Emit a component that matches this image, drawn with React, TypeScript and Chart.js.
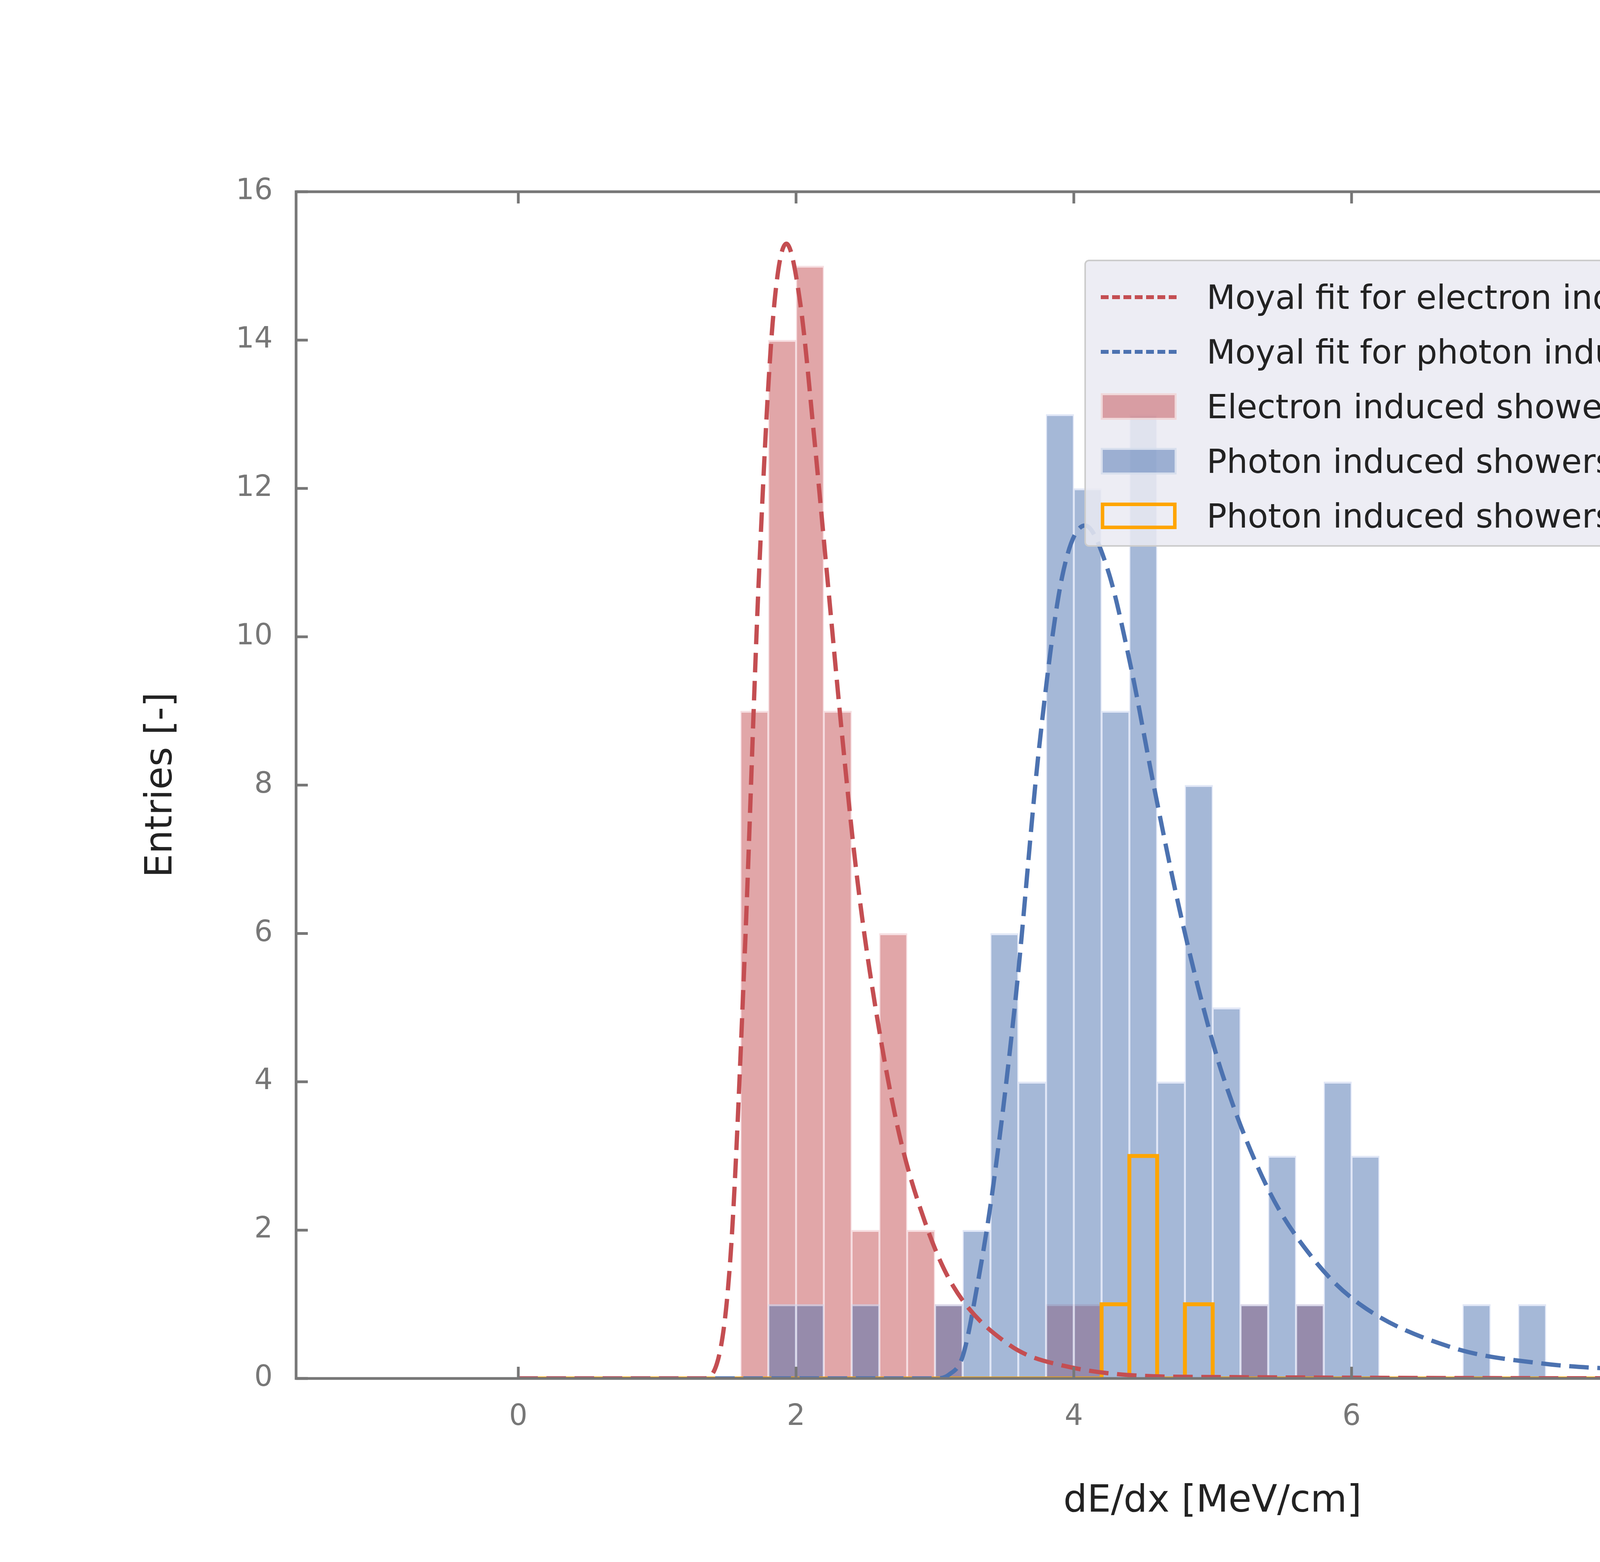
import React, { useEffect, useRef } from "react";
import { Chart, registerables } from "chart.js";

Chart.register(...registerables);

const BIN = 0.2;
// histogram bin starts and counts
const electronBins = [1.6, 1.8, 2.0, 2.2, 2.4, 2.6, 2.8, 3.0, 3.8, 4.0, 5.2, 5.6];
const electronCounts = [9, 14, 15, 9, 2, 6, 2, 1, 1, 1, 1, 1];
const photonBins = [1.8, 2.0, 2.4, 3.0, 3.2, 3.4, 3.6, 3.8, 4.0, 4.2, 4.4, 4.6, 4.8, 5.0, 5.2, 5.4, 5.6, 5.8, 6.0, 6.8, 7.2];
const photonCounts = [1, 1, 1, 1, 2, 6, 4, 13, 12, 9, 13, 4, 8, 5, 1, 3, 1, 4, 3, 1, 1];
const comptonBins = [4.2, 4.4, 4.8];
const comptonCounts = [1, 3, 1];

// fit curves
const electronFitX = [0, 1.33, 1.43, 1.53, 1.63, 1.73, 1.83, 1.93, 2.03, 2.13, 2.23, 2.33, 2.43, 2.53, 2.73, 2.93, 3.13, 3.53, 3.93, 4.93, 10];
const electronFitY = [0, 0, 0.2, 1.7, 5.7, 10.7, 14.2, 15.3, 14.5, 12.7, 10.7, 8.7, 6.9, 5.5, 3.4, 2.1, 1.25, 0.46, 0.17, 0.02, 0];
const photonFitX = [0, 3.0, 3.1, 3.2, 3.3, 3.42, 3.585, 3.75, 3.915, 4.08, 4.245, 4.41, 4.575, 4.74, 4.905, 5.07, 5.4, 5.73, 6.06, 6.72, 7.38, 8.0, 9.0, 10];
const photonFitY = [0, 0, 0.05, 0.3, 1.2, 2.6, 5.2, 8.5, 10.8, 11.5, 10.9, 9.6, 8.0, 6.5, 5.2, 4.1, 2.55, 1.6, 1.0, 0.42, 0.2, 0.12, 0.05, 0.02];

const xTicks = [0, 2, 4, 6, 8, 10];
const yTicks = [0, 2, 4, 6, 8, 10, 12, 14, 16];

const RED = "#c44e52";
const BLUE = "#4c72b0";
const ORANGE = "#ffa500";

const hist = (bins: number[], counts: number[]) =>
	bins.map((b, i) => ({ x: b + BIN / 2, y: counts[i] }));

const step = (bins: number[], counts: number[]) => {
	const pts: { x: number; y: number }[] = [{ x: 0, y: 0 }];
	bins.forEach((b, i) => {
		pts.push({ x: b, y: 0 }, { x: b, y: counts[i] }, { x: b + BIN, y: counts[i] }, { x: b + BIN, y: 0 });
	});
	pts.push({ x: 10, y: 0 });
	return pts;
};

const curve = (xs: number[], ys: number[]) => xs.map((x, i) => ({ x, y: ys[i] }));

const inwardTicks = {
	id: "inwardTicks",
	afterDraw(chart: any) {
		const { ctx, chartArea: a, scales } = chart;
		const L = 30;
		ctx.save();
		ctx.strokeStyle = "#777";
		ctx.lineWidth = 7;
		xTicks.forEach((t) => {
			const p = scales.x.getPixelForValue(t);
			ctx.beginPath();
			ctx.moveTo(p, a.bottom); ctx.lineTo(p, a.bottom - L);
			ctx.moveTo(p, a.top); ctx.lineTo(p, a.top + L);
			ctx.stroke();
		});
		yTicks.forEach((t) => {
			const p = scales.y.getPixelForValue(t);
			ctx.beginPath();
			ctx.moveTo(a.left, p); ctx.lineTo(a.left + L, p);
			ctx.moveTo(a.right, p); ctx.lineTo(a.right - L, p);
			ctx.stroke();
		});
		ctx.strokeRect(a.left, a.top, a.right - a.left, a.bottom - a.top);
		ctx.restore();
	},
};

const legendItems = [
	{ kind: "dash", color: RED, label: "Moyal fit for electron induced showers" },
	{ kind: "dash", color: BLUE, label: "Moyal fit for photon induced showers" },
	{ kind: "fill", color: "rgba(196,78,82,0.5)", label: "Electron induced showers" },
	{ kind: "fill", color: "rgba(76,114,176,0.5)", label: "Photon induced showers w/ and w/o compton" },
	{ kind: "box", color: ORANGE, label: "Photon induced showers w/ compton" },
];

const App: React.FC = () => {
	const canvasRef = useRef<HTMLCanvasElement | null>(null);
	const chart = useRef<Chart | null>(null);

	useEffect(() => {
		const ctx = canvasRef.current?.getContext("2d");
		if (!ctx) return;
		const tickFont = { family: "DejaVu Sans", size: 74 };
		chart.current = new Chart(ctx, {
			type: "bar",
			data: {
				datasets: [
					{
						type: "bar",
						data: hist(electronBins, electronCounts),
						backgroundColor: "rgba(196,78,82,0.5)",
						borderColor: "rgba(240,200,205,0.6)",
						borderWidth: { top: 5, left: 3, right: 3, bottom: 0 },
						borderSkipped: "bottom",
						grouped: false,
						barPercentage: 1,
						categoryPercentage: 1,
						order: 3,
					} as any,
					{
						type: "bar",
						data: hist(photonBins, photonCounts),
						backgroundColor: "rgba(76,114,176,0.5)",
						borderColor: "rgba(205,215,240,0.6)",
						borderWidth: { top: 5, left: 3, right: 3, bottom: 0 },
						borderSkipped: "bottom",
						grouped: false,
						barPercentage: 1,
						categoryPercentage: 1,
						order: 2,
					} as any,
					{
						type: "line",
						data: step(comptonBins, comptonCounts),
						borderColor: ORANGE,
						borderWidth: 10,
						pointRadius: 0,
						order: 1,
					} as any,
					{
						type: "line",
						data: curve(electronFitX, electronFitY),
						borderColor: RED,
						borderWidth: 11,
						borderDash: [50, 22],
						pointRadius: 0,
						cubicInterpolationMode: "monotone",
						order: 0,
					} as any,
					{
						type: "line",
						data: curve(photonFitX, photonFitY),
						borderColor: BLUE,
						borderWidth: 11,
						borderDash: [50, 22],
						pointRadius: 0,
						cubicInterpolationMode: "monotone",
						order: 0,
					} as any,
				],
			},
			options: {
				animation: false,
				responsive: false,
				devicePixelRatio: 1,
				layout: { padding: { top: 491, right: 549, left: 0, bottom: 0 } },
				plugins: { legend: { display: false }, tooltip: { enabled: false } },
				scales: {
					x: {
						type: "linear",
						min: -0.5,
						max: 10.5,
						afterFit: (s: any) => { s.height = 470; },
						afterBuildTicks: (s: any) => { s.ticks = xTicks.map((v) => ({ value: v })); },
						grid: { display: false, drawTicks: false },
						border: { display: false },
						ticks: { color: "#777", font: tickFont, padding: 55 },
					},
					y: {
						type: "linear",
						min: 0,
						max: 16,
						afterFit: (s: any) => { s.width = 758; },
						afterBuildTicks: (s: any) => { s.ticks = yTicks.map((v) => ({ value: v })); },
						grid: { display: false, drawTicks: false },
						border: { display: false },
						ticks: { color: "#777", font: tickFont, padding: 60 },
					},
				},
			},
			plugins: [inwardTicks],
		} as any);
		return () => {
			chart.current?.destroy();
			chart.current = null;
		};
	}, []);

	return (
		<div style={{ position: "fixed", left: 0, top: 0, width: 6000, height: 4000, background: "#fff", fontFamily: "DejaVu Sans" }}>
			<canvas ref={canvasRef} width={6000} height={4000} style={{ width: 6000, height: 4000 }} />
			<div style={{ position: "absolute", left: 3104 - 1000, width: 2000, top: 3790, textAlign: "center", fontSize: 96, color: "#222", lineHeight: 1 }}>
				dE/dx [MeV/cm]
			</div>
			<div style={{ position: "absolute", left: 406 - 1000, width: 2000, top: 2010 - 50, textAlign: "center", fontSize: 96, color: "#222", lineHeight: "100px", transform: "rotate(-90deg)" }}>
				Entries [-]
			</div>
			<div style={{ position: "absolute", left: 2776, top: 665, width: 2513, height: 735, boxSizing: "border-box", background: "rgba(234,234,242,0.85)", border: "4px solid #ccc", borderRadius: 12, paddingTop: 22 }}>
				{legendItems.map((it) => (
					<div key={it.label} style={{ display: "flex", alignItems: "center", height: 140, fontSize: 85, color: "#222" }}>
						<div style={{ width: 194, marginLeft: 38, marginRight: 77, display: "flex", alignItems: "center" }}>
							{it.kind === "dash" && <div style={{ width: 194, height: 0, borderTop: `10px dashed ${it.color}` }} />}
							{it.kind === "fill" && <div style={{ width: 194, height: 68, background: it.color, boxSizing: "border-box", border: "5px solid rgba(255,255,255,0.6)" }} />}
							{it.kind === "box" && <div style={{ width: 194, height: 68, boxSizing: "border-box", border: `9px solid ${it.color}` }} />}
						</div>
						<span>{it.label}</span>
					</div>
				))}
			</div>
		</div>
	);
};

export default App;
